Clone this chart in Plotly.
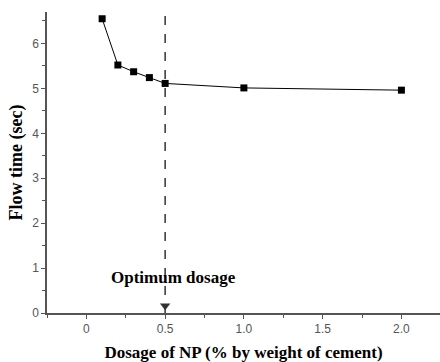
import plotly.graph_objects as go

dosage = [0.1, 0.2, 0.3, 0.4, 0.5, 1.0, 2.0]
flow_time = [6.55, 5.52, 5.37, 5.24, 5.11, 5.01, 4.96]
optimum = 0.5
x_ticks = [0, 0.5, 1.0, 1.5, 2.0]
x_ticklabels = ["0", "0.5", "1.0", "1.5", "2.0"]
y_ticks = [0, 1, 2, 3, 4, 5, 6]

fig = go.Figure()
fig.add_trace(go.Scatter(
    x=dosage, y=flow_time, mode="lines+markers",
    line=dict(color="black", width=1),
    marker=dict(symbol="square", size=7, color="black"),
    showlegend=False, hoverinfo="skip"))
fig.add_trace(go.Scatter(
    x=[optimum], y=[0.16], mode="markers",
    marker=dict(symbol="triangle-down", size=9, color="#333333"),
    showlegend=False, hoverinfo="skip"))
fig.add_shape(type="line", x0=optimum, x1=optimum, y0=0, y1=1, yref="paper",
              line=dict(color="#333333", width=1.5, dash="dash"))
fig.add_annotation(x=0.55, y=0.78, text="<b>Optimum dosage</b>", showarrow=False,
                   font=dict(family="Liberation Serif", size=17, color="black"))

axis_font = dict(family="Liberation Sans", size=12, color="#555555")
fig.update_xaxes(range=[-0.25, 2.245], tickvals=x_ticks, ticktext=x_ticklabels,
                 ticks="outside", ticklen=4, tickcolor="#555555",
                 showline=True, linecolor="#555555", linewidth=1.5,
                 showgrid=False, zeroline=False, tickfont=axis_font,
                 minor=dict(dtick=0.25, tick0=0, ticks="outside", ticklen=3, tickcolor="#555555"),
                 title=dict(text="<b>Dosage of NP (% by weight of cement)</b>",
                            font=dict(family="Liberation Serif", size=17, color="black"),
                            standoff=11))
fig.update_yaxes(range=[0, 6.7], tickvals=y_ticks,
                 ticks="outside", ticklen=4, tickcolor="#555555",
                 showline=True, linecolor="#555555", linewidth=1.5,
                 showgrid=False, zeroline=False, tickfont=axis_font,
                 minor=dict(dtick=0.5, tick0=0, ticks="outside", ticklen=3, tickcolor="#555555"),
                 title=dict(text="<b>Flow time (sec)</b>",
                            font=dict(family="Liberation Serif", size=18, color="black"),
                            standoff=5))
fig.update_layout(width=440, height=362, margin=dict(l=47, r=0, t=12, b=49),
                  plot_bgcolor="white", paper_bgcolor="white")
fig.write_html("out.html")
